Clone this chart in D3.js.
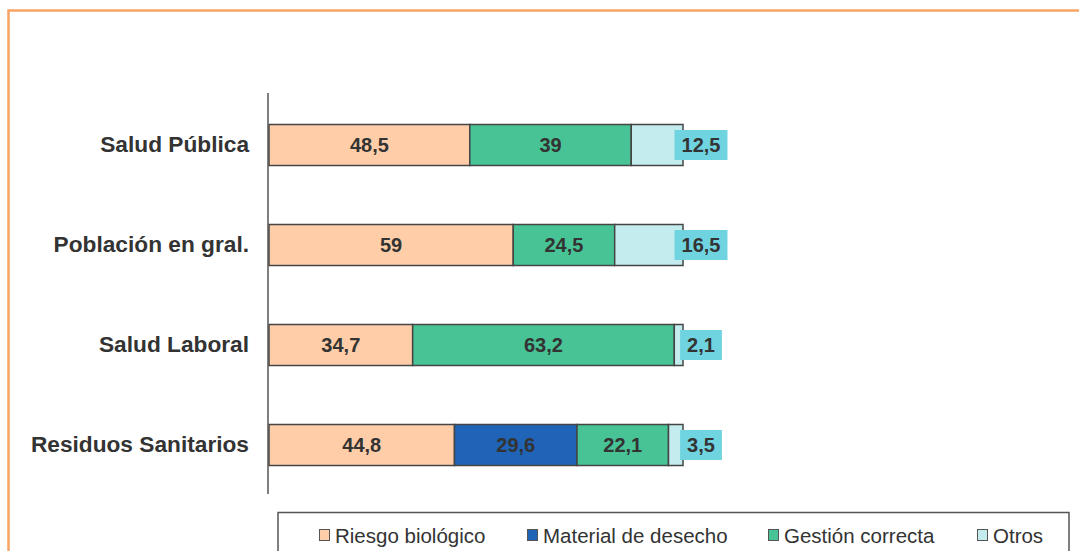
<!DOCTYPE html>
<html>
<head>
<meta charset="utf-8">
<script src="https://cdn.jsdelivr.net/npm/d3@7"></script>
<style>
  html, body { margin: 0; padding: 0; background: #fff; }
  svg { display: block; font-family: "Liberation Sans", Arial, sans-serif; }
</style>
</head>
<body>
<div id="chart"></div>
<script>
// categorías (de arriba abajo) y series apiladas
const categories = ['Salud Pública', 'Población en gral.', 'Salud Laboral', 'Residuos Sanitarios'];
const seriesNames = ['Riesgo biológico', 'Material de desecho', 'Gestión correcta', 'Otros'];
const riesgo   = [48.5, 59, 34.7, 44.8];
const material = [0, 0, 0, 29.6];
const gestion  = [39, 24.5, 63.2, 22.1];
const otros    = [12.5, 16.5, 2.1, 3.5];
const colors = ['#FFCEA8', '#1F64B6', '#47C395', '#C4ECEF'];

const width = 1079, height = 551;

const svg = d3.select('#chart').append('svg')
    .attr('width', width)
    .attr('height', height);

// marco naranja
svg.append('rect')
    .attr('x', 8.5).attr('y', 10.5)
    .attr('width', width + 20).attr('height', height + 20)
    .attr('fill', 'none')
    .attr('stroke', '#F7A465')
    .attr('stroke-width', 2.5);

// tabla para d3.stack
const table = categories.map((c, i) => ({
    cat: c,
    'Riesgo biológico': riesgo[i],
    'Material de desecho': material[i],
    'Gestión correcta': gestion[i],
    'Otros': otros[i]
}));
const stacked = d3.stack().keys(seriesNames)(table);

const x = d3.scaleLinear().domain([0, 100]).range([269, 683]);
const y = d3.scaleBand().domain(categories).range([95, 495])
    .paddingInner(0.59).paddingOuter(0.295);

// barras
const layers = svg.append('g').selectAll('g')
    .data(stacked)
    .join('g')
    .attr('fill', (d, i) => colors[i]);

layers.selectAll('rect')
    .data(d => d.filter(s => s[1] - s[0] > 0))
    .join('rect')
    .attr('x', d => x(d[0]))
    .attr('y', d => y(d.data.cat))
    .attr('width', d => x(d[1]) - x(d[0]))
    .attr('height', y.bandwidth())
    .attr('stroke', '#454545')
    .attr('stroke-width', 1.5);

const fmt = v => String(+v.toFixed(1)).replace('.', ',');

// etiquetas dentro de los segmentos (excepto Otros)
stacked.slice(0, 3).forEach(layer => {
    svg.append('g').selectAll('text')
        .data(layer.filter(s => s[1] - s[0] > 0))
        .join('text')
        .attr('x', d => x((d[0] + d[1]) / 2))
        .attr('y', d => y(d.data.cat) + y.bandwidth() / 2)
        .attr('dy', '0.36em')
        .attr('text-anchor', 'middle')
        .attr('font-size', '20px')
        .attr('font-weight', 'bold')
        .attr('fill', '#333')
        .text(d => fmt(d[1] - d[0]));
});

// etiquetas de Otros en caja turquesa a la derecha
const lblG = svg.append('g').selectAll('g')
    .data(stacked[3])
    .join('g')
    .attr('transform', d => `translate(${x(100) + 18},${y(d.data.cat) + y.bandwidth() / 2})`);

lblG.append('text')
    .attr('text-anchor', 'middle')
    .attr('dy', '0.36em')
    .attr('font-size', '20px')
    .attr('font-weight', 'bold')
    .attr('fill', '#333')
    .text(d => fmt(d[1] - d[0]));

lblG.each(function () {
    const g = d3.select(this);
    const bb = g.select('text').node().getBBox();
    g.insert('rect', 'text')
        .attr('x', bb.x - 7)
        .attr('y', -15)
        .attr('width', bb.width + 14)
        .attr('height', 30)
        .attr('fill', '#70D4E0');
});

// eje vertical
svg.append('g')
    .attr('transform', `translate(268,0)`)
    .call(d3.axisLeft(y).tickSize(0).tickPadding(19))
    .call(g => g.select('.domain')
        .attr('d', 'M0,93V494')
        .attr('stroke', '#555')
        .attr('stroke-width', 1.5))
    .call(g => g.selectAll('text')
        .attr('font-size', '22.7px')
        .attr('font-weight', 'bold')
        .attr('font-family', '"Liberation Sans", Arial, sans-serif')
        .attr('fill', '#333'));

// leyenda
svg.append('rect')
    .attr('x', 278).attr('y', 512.5)
    .attr('width', 791).attr('height', 60)
    .attr('fill', 'none')
    .attr('stroke', '#555')
    .attr('stroke-width', 1.5);

const legendX = [319, 527, 768, 977];
const legend = svg.append('g').selectAll('g')
    .data(seriesNames)
    .join('g')
    .attr('transform', (d, i) => `translate(${legendX[i]},529)`);

legend.append('rect')
    .attr('x', 0.5).attr('y', 0.5)
    .attr('width', 10).attr('height', 11)
    .attr('fill', (d, i) => colors[i])
    .attr('stroke', '#555')
    .attr('stroke-width', 1);

legend.append('text')
    .attr('x', 16)
    .attr('y', 14)
    .attr('font-size', '20.5px')
    .attr('fill', '#333')
    .text(d => d);
</script>
</body>
</html>
